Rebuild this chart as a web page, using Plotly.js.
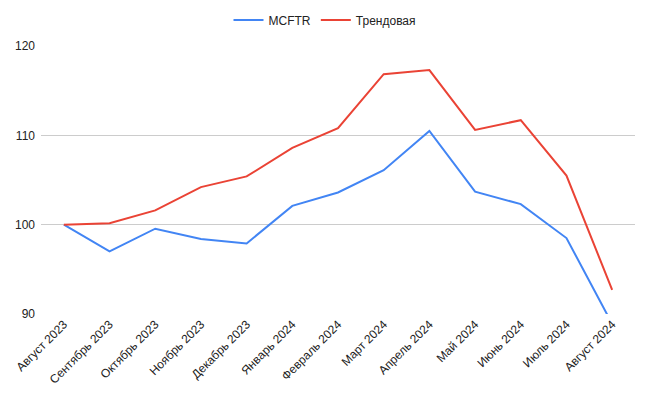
<!DOCTYPE html>
<html>
<head>
<meta charset="utf-8">
<script src="https://cdn.plot.ly/plotly-3.0.1.min.js"></script>
<style>html,body{margin:0;padding:0;background:#fff;}#chart{width:650px;height:397px;}</style>
</head>
<body>
<div id="chart"></div>
<script>
const months = ["Август 2023","Сентябрь 2023","Октябрь 2023","Ноябрь 2023","Декабрь 2023","Январь 2024","Февраль 2024","Март 2024","Апрель 2024","Май 2024","Июнь 2024","Июль 2024","Август 2024"];
const mcftr = [100, 97.0, 99.55, 98.4, 97.9, 102.1, 103.6, 106.1, 110.5, 103.7, 102.3, 98.5, 88.9];
const trend = [100, 100.15, 101.6, 104.2, 105.4, 108.6, 110.8, 116.85, 117.3, 110.6, 111.7, 105.5, 92.7];
const yTicks = [90, 100, 110, 120];

const traces = [
  {x: months, y: mcftr, name: "MCFTR", type: "scatter", mode: "lines",
   line: {color: "#4285F4", width: 2}},
  {x: months, y: trend, name: "Трендовая", type: "scatter", mode: "lines",
   line: {color: "#EA4335", width: 2}}
];

const layout = {
  width: 650, height: 397,
  margin: {l: 41, r: 15, t: 46, b: 83},
  paper_bgcolor: "#fff", plot_bgcolor: "#fff",
  font: {family: "Liberation Sans, Arial, sans-serif", size: 12, color: "#222"},
  showlegend: true,
  legend: {orientation: "h", x: 0.5, xanchor: "center", xref: "container",
           y: 1 - 20/397, yanchor: "middle", yref: "container",
           itemwidth: 30, font: {size: 12, color: "#222"}},
  xaxis: {type: "category", range: [-0.5, 12.5], tickangle: -45,
          showgrid: false, zeroline: false, showline: false, ticks: "",
          tickfont: {size: 12, color: "#222"}},
  yaxis: {range: [90, 120], tickvals: yTicks, showgrid: true, gridcolor: "#cccccc",
          gridwidth: 1, zeroline: false, showline: false, ticks: "",
          ticklabelstandoff: 5,
          tickfont: {size: 12, color: "#222"}},
  hovermode: false
};

Plotly.newPlot("chart", traces, layout, {displayModeBar: false, staticPlot: true});
</script>
</body>
</html>
